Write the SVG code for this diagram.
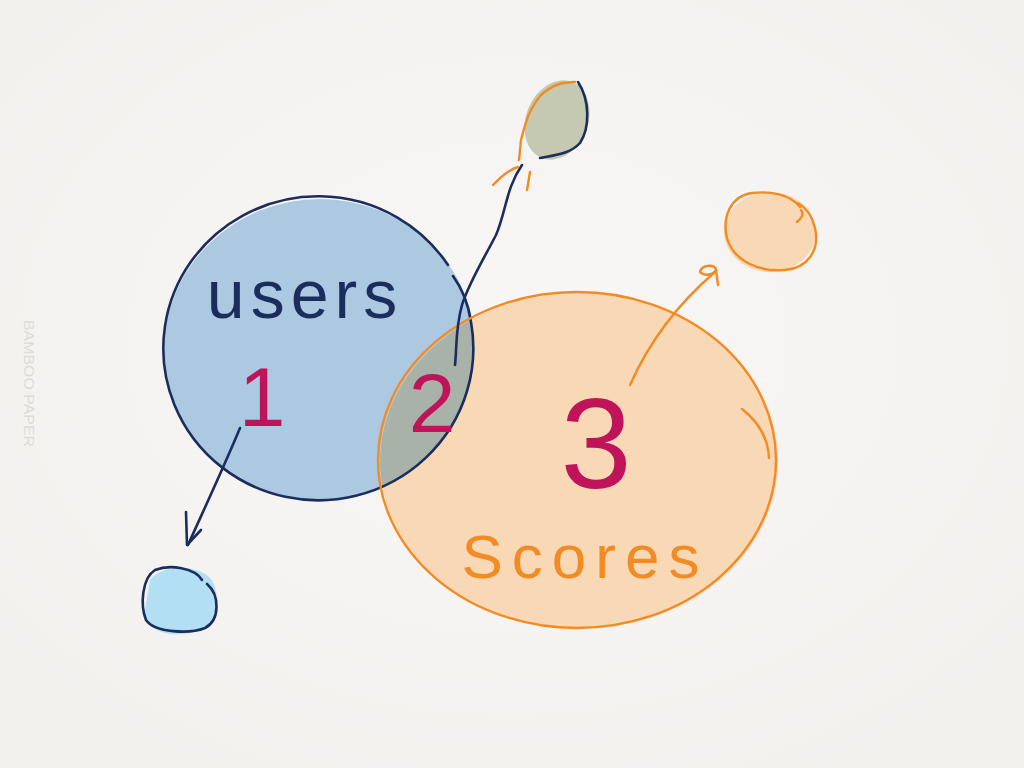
<svg xmlns="http://www.w3.org/2000/svg" width="1024" height="768" viewBox="0 0 1024 768">
  <defs>
    <radialGradient id="bg" cx="50%" cy="45%" r="75%">
      <stop offset="0" stop-color="#f8f7f5"/>
      <stop offset="1" stop-color="#f1f0ed"/>
    </radialGradient>
    <clipPath id="blueClip">
      <ellipse cx="319" cy="349" rx="155" ry="152"/>
    </clipPath>
    <style>
      .navy { fill: none; stroke: #1b2d5c; stroke-width: 2.6; stroke-linecap: round; stroke-linejoin: round; }
      .orange { fill: none; stroke: #f38b25; stroke-width: 2.4; stroke-linecap: round; stroke-linejoin: round; }
      .hand { font-family: "Liberation Sans", "DejaVu Sans", sans-serif; }
      .num { fill: #c0145a; text-anchor: middle; }
    </style>
  </defs>

  <rect width="1024" height="768" fill="url(#bg)"/>

  <text class="hand" transform="translate(24,320) rotate(90)" font-size="14" fill="#dddbd7" textLength="127" lengthAdjust="spacingAndGlyphs">BAMBOO PAPER</text>

  <g id="users">
    <ellipse cx="320" cy="350" rx="156" ry="151" fill="#adc9e1"/>
    <text class="hand" x="305" y="318" font-size="68" letter-spacing="6" fill="#1b2d5c" text-anchor="middle">users</text>
  </g>

  <g id="scores">
    <ellipse cx="579" cy="461" rx="199" ry="168" fill="#f9d8b5"/>
    <text class="hand" x="585" y="578" font-size="62" letter-spacing="9" fill="#f38b25" text-anchor="middle">Scores</text>
  </g>

  <g id="intersection">
    <ellipse cx="579" cy="461" rx="199" ry="168" fill="#a8b2a9" clip-path="url(#blueClip)"/>
  </g>

  <g id="outlines">
    <path id="users-outline" class="navy" d="M448,265 A155,152 0 1 0 471,322 C468,302 461,287 453,276"/>
    <g id="scores-outline">
      <ellipse class="orange" cx="577" cy="460" rx="199" ry="168"/>
      <path class="orange" d="M742,409 C756,420 768,436 769,458"/>
    </g>
  </g>

  <g id="n1">
    <text class="hand num" x="262" y="426" font-size="84">1</text>
  </g>
  <g id="n2">
    <text class="hand num" x="432" y="432" font-size="84">2</text>
  </g>
  <g id="n3">
    <text class="hand num" x="596" y="488" font-size="128">3</text>
  </g>

  <g id="pod">
    <ellipse cx="557" cy="120" rx="31" ry="41" transform="rotate(22 557 120)" fill="#c5c9b1"/>
    <path class="orange" d="M519,160 L521,140 C526,120 530,108 541,95 C552,85 562,82 575,82"/>
    <path class="navy" d="M578,82 C590,100 590,128 580,143 C570,154 555,155 540,158"/>
  </g>

  <g id="orangeDot">
    <ellipse cx="770" cy="232" rx="46" ry="40" fill="#f9d8b5"/>
    <path class="orange" d="M800,207 C790,194 770,191 752,193 C730,196 722,218 727,238 C734,262 760,272 785,270 C808,268 820,250 815,228 C812,215 805,207 798,203 M801,210 C804,214 802,218 797,222"/>
  </g>

  <g id="blueDot">
    <path d="M150,580 C160,565 195,563 210,578 C222,592 218,622 200,630 C180,638 150,636 144,615 Z" fill="#b2dff3"/>
    <path class="navy" d="M202,580 C195,568 170,564 155,570 C142,578 140,605 146,620 C155,633 190,634 205,628 C220,620 220,595 207,584"/>
  </g>

  <g id="connectors">
    <path class="navy" d="M522,165 C506,188 506,212 496,235 C482,262 468,285 462,305 C455,330 457,348 455,365"/>
    <path class="orange" d="M493,185 C500,178 508,170 518,167 M530,172 L527,190"/>
    <path class="orange" d="M630,385 C650,340 680,302 715,272"/>
    <path class="orange" d="M700,272 C702,264 716,264 716,270 C712,276 704,276 700,272 M716,270 L718,285"/>
    <path class="navy" d="M240,428 C226,462 206,505 188,545"/>
    <path class="navy" d="M186,512 L187,545 L201,530"/>
  </g>
</svg>
